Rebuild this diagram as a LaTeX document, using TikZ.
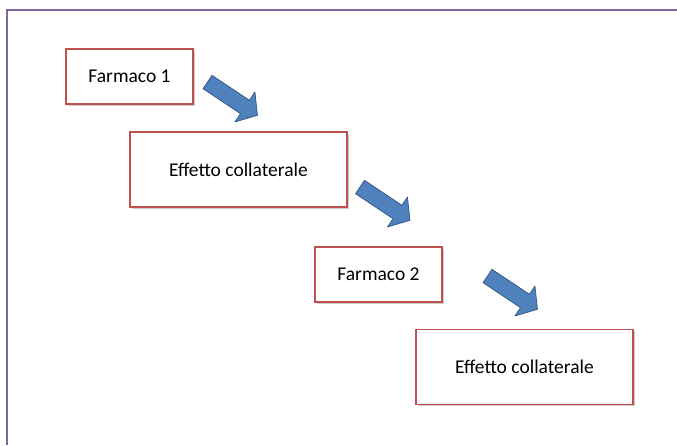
\documentclass[tikz,border=0pt]{standalone}
\usepackage{fontspec}
\setmainfont{Carlito}
\usetikzlibrary{shadows}
\definecolor{boxred}{RGB}{192,80,77}
\definecolor{arrblue}{RGB}{79,129,189}
\definecolor{arrdark}{RGB}{56,93,138}
\definecolor{framepurple}{RGB}{128,100,162}

\begin{document}
\begin{tikzpicture}[x=1pt, y=-1pt, font=\fontsize{19.5}{23}\selectfont,
  stepbox/.style={draw=boxred, line width=1.5pt, fill=white, inner sep=0pt,
    drop shadow={shadow xshift=1.5pt, shadow yshift=-1.5pt, opacity=0.4}},
  smallbox/.style={stepbox, minimum width=127pt, minimum height=55pt},
  widebox/.style={stepbox, minimum width=217pt, minimum height=75pt},
  blockarrow/.style={fill=arrblue, draw=arrdark, line width=0.8pt, line join=round}]
\useasboundingbox (0,0) rectangle (677,445);
% frame
\draw[framepurple, line width=1.6pt] (7,445)--(7,10)--(677,10);
% boxes
\node[smallbox] (farm1) at (129.5,76.5) {Farmaco 1};
\node[widebox] (eff1) at (238.5,169.5) {Effetto collaterale};
\node[smallbox] (farm2) at (378.5,274.5) {Farmaco 2};
\node[widebox] (eff2) at (524.5,367) {Effetto collaterale};
% arrows between the steps
\foreach \p in {(207.5,82),(360,187),(487.5,276)}
  \draw[blockarrow, shift={\p}, rotate=-33.7]
    (0,-8)--(45,-8)--(45,-18)--(60,0)--(45,18)--(45,8)--(0,8)--cycle;
\end{tikzpicture}
\end{document}
